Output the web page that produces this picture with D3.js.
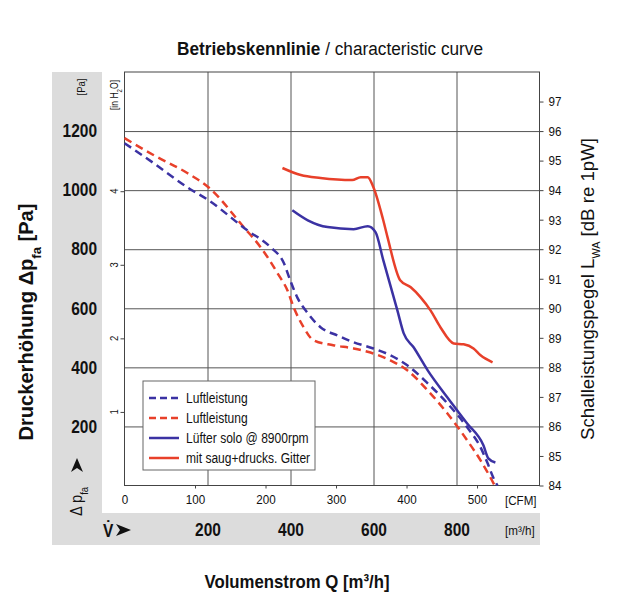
<!DOCTYPE html>
<html lang="de">
<head>
<meta charset="UTF-8">
<title>Betriebskennlinie</title>
<style>
  body { margin: 0; background: #fff; }
  svg text { font-family: 'Liberation Sans', Arial, sans-serif; fill: #111; }
</style>
</head>
<body>
<script src="https://d3js.org/d3.v7.min.js"></script>
<script>
// ---- data (CFM on x, Pa for the air curves, dB for the sound curves) ----
const cfmBlueDash = [0, 41, 89, 119, 174, 207, 226, 235, 245, 260, 278, 302, 325, 353, 377, 401, 430, 458, 486, 505, 515, 523, 529];
const paBlueDash  = [1159, 1092, 1010, 966, 864, 807, 753, 695, 637, 583, 536, 508, 485, 464, 441, 407, 346, 278, 197, 129, 75, 27, 0];

const cfmRedDash = [0, 41, 89, 119, 169, 193, 217, 231, 240, 254, 268, 296, 325, 353, 377, 401, 430, 458, 486, 505, 519, 525];
const paRedDash  = [1176, 1119, 1058, 1010, 875, 807, 719, 661, 603, 536, 492, 475, 464, 447, 424, 390, 322, 244, 153, 85, 27, 0];

const cfmBlueSolid = [238, 260, 288, 325, 345, 356, 367, 387, 396, 410, 430, 458, 486, 509, 516, 526];
const dbBlueSolid  = [93.32, 92.98, 92.75, 92.68, 92.78, 92.58, 91.63, 89.93, 89.15, 88.68, 87.90, 86.98, 86.10, 85.36, 84.92, 84.78];

const cfmRedSolid = [224, 250, 278, 323, 335, 345, 353, 367, 373, 391, 406, 420, 434, 448, 467, 481, 495, 505, 522];
const dbRedSolid  = [94.75, 94.51, 94.41, 94.34, 94.44, 94.44, 94.10, 92.98, 92.41, 90.95, 90.71, 90.37, 89.93, 89.36, 88.81, 88.78, 88.64, 88.41, 88.17];

const legendLabels = ["Luftleistung", "Luftleistung", "Lüfter solo @ 8900rpm", "mit saug+drucks. Gitter"];

const paTicks  = [200, 400, 600, 800, 1000, 1200];
const inTicks  = [1, 2, 3, 4];
const dbTicks  = [84, 85, 86, 87, 88, 89, 90, 91, 92, 93, 94, 95, 96, 97];
const cfmTicks = [0, 100, 200, 300, 400, 500];
const m3hTicks = [200, 400, 600, 800];

// ---- layout ----
const svgWidth = 629, svgHeight = 600;
const plotLeft = 124.5, plotRight = 539.5, plotTop = 72, plotBottom = 485.5;
const blue = "#3b32a3", red = "#e8402a", grey = "#dcdcdc";

const svg = d3.select("body").append("svg")
  .attr("width", svgWidth)
  .attr("height", svgHeight);

// scales
const xCfm = d3.scaleLinear().domain([0, 1000 / 1.699]).range([plotLeft, plotRight]);
const xM3h = d3.scaleLinear().domain([0, 1000]).range([plotLeft, plotRight]);
const yPa  = d3.scaleLinear().domain([0, 1400]).range([plotBottom, plotTop]);
const yIn  = d3.scaleLinear().domain([0, 1400 / 249.09]).range([plotBottom, plotTop]);
const yDb  = d3.scaleLinear().domain([84, 98]).range([plotBottom, plotTop]);

// grey L-shaped band
svg.append("rect").attr("x", 52).attr("y", plotTop).attr("width", 50).attr("height", 545 - plotTop).attr("fill", grey);
svg.append("rect").attr("x", 52).attr("y", 513).attr("width", 540 - 52).attr("height", 32).attr("fill", grey);

// grid
const grid = svg.append("g");
grid.append("g")
  .attr("transform", `translate(${plotLeft},0)`)
  .call(d3.axisLeft(yPa).tickValues(paTicks).tickSize(-(plotRight - plotLeft)).tickFormat(""))
  .call(g => g.select(".domain").remove())
  .selectAll("line").attr("stroke", "#555");
grid.append("g")
  .attr("transform", `translate(0,${plotBottom})`)
  .call(d3.axisBottom(xM3h).tickValues(m3hTicks).tickSize(-(plotBottom - plotTop)).tickFormat(""))
  .call(g => g.select(".domain").remove())
  .selectAll("line").attr("stroke", "#555");

// frame
svg.append("rect")
  .attr("x", plotLeft).attr("y", plotTop)
  .attr("width", plotRight - plotLeft).attr("height", plotBottom - plotTop)
  .attr("fill", "none").attr("stroke", "#444").attr("stroke-width", 1);

// curves
const paLine = d3.line().x(d => xCfm(d[0])).y(d => yPa(d[1])).curve(d3.curveMonotoneX);
const dbLine = d3.line().x(d => xCfm(d[0])).y(d => yDb(d[1])).curve(d3.curveMonotoneX);

svg.append("path").datum(d3.zip(cfmRedDash, paRedDash))
  .attr("d", paLine).attr("fill", "none").attr("stroke", red)
  .attr("stroke-width", 2.5).attr("stroke-dasharray", "8,5");
svg.append("path").datum(d3.zip(cfmBlueDash, paBlueDash))
  .attr("d", paLine).attr("fill", "none").attr("stroke", blue)
  .attr("stroke-width", 2.5).attr("stroke-dasharray", "8,5");
svg.append("path").datum(d3.zip(cfmRedSolid, dbRedSolid))
  .attr("d", dbLine).attr("fill", "none").attr("stroke", red).attr("stroke-width", 2.5);
svg.append("path").datum(d3.zip(cfmBlueSolid, dbBlueSolid))
  .attr("d", dbLine).attr("fill", "none").attr("stroke", blue).attr("stroke-width", 2.5);

// legend
const legend = svg.append("g").attr("transform", "translate(143,381)");
legend.append("rect").attr("width", 172).attr("height", 89)
  .attr("fill", "#fff").attr("stroke", "#666").attr("stroke-width", 1);
const legendStyles = [
  { color: blue, dash: "7,4" },
  { color: red, dash: "7,4" },
  { color: blue, dash: null },
  { color: red, dash: null }
];
const rows = legend.selectAll(".row")
  .data(legendLabels)
  .enter()
  .append("g")
  .attr("class", "row")
  .attr("transform", (d, i) => `translate(0, ${17 + i * 20})`);
rows.append("line")
  .attr("x1", 6).attr("x2", 36).attr("y1", 0).attr("y2", 0)
  .attr("stroke", (d, i) => legendStyles[i].color)
  .attr("stroke-width", 2.5)
  .attr("stroke-dasharray", (d, i) => legendStyles[i].dash);
rows.append("text")
  .attr("x", 43).attr("y", 5)
  .style("font-size", "14px")
  .text(d => d);

// Pa labels in grey band
svg.append("g")
  .attr("transform", "translate(97,0)")
  .call(d3.axisLeft(yPa).tickValues(paTicks).tickSize(0).tickPadding(0).tickFormat(d3.format("d")))
  .call(g => g.select(".domain").remove())
  .selectAll("text")
  .style("font-size", "18px").style("font-weight", "bold").attr("fill", "#111");

// inch H2O ticks
const inAxis = svg.append("g")
  .attr("transform", `translate(${plotLeft},0)`)
  .call(d3.axisLeft(yIn).tickValues(inTicks).tickSize(4).tickFormat(""))
  .call(g => g.select(".domain").remove());
inAxis.selectAll("line").attr("stroke", "#444");
svg.selectAll(".inlab")
  .data(inTicks)
  .enter()
  .append("text")
  .attr("class", "inlab")
  .attr("transform", d => `translate(118,${yIn(d)}) rotate(-90)`)
  .attr("text-anchor", "middle")
  .style("font-size", "11px")
  .text(d => d);

// dB axis on the right
const dbAxis = svg.append("g")
  .attr("transform", `translate(${plotRight},0)`)
  .call(d3.axisRight(yDb).tickValues(dbTicks).tickSize(4).tickPadding(5))
  .call(g => g.select(".domain").remove());
dbAxis.selectAll("line").attr("stroke", "#444");
dbAxis.selectAll("text").style("font-size", "13.5px").attr("fill", "#111");

// CFM axis
const cfmAxis = svg.append("g")
  .attr("transform", `translate(0,${plotBottom})`)
  .call(d3.axisBottom(xCfm).tickValues(cfmTicks).tickSize(3).tickPadding(6))
  .call(g => g.select(".domain").remove());
cfmAxis.selectAll("line").attr("stroke", "#444");
cfmAxis.selectAll(".tick").filter(d => d === 0).select("line").remove();
cfmAxis.selectAll("text").style("font-size", "13.5px").attr("fill", "#111");

// m3/h labels in bottom band
svg.append("g")
  .attr("transform", "translate(0,523)")
  .call(d3.axisBottom(xM3h).tickValues(m3hTicks).tickSize(0).tickPadding(0))
  .call(g => g.select(".domain").remove())
  .selectAll("text")
  .style("font-size", "18px").style("font-weight", "bold").attr("fill", "#111");

// unit labels
svg.append("text").attr("x", 505).attr("y", 505).style("font-size", "13.5px").text("[CFM]");
svg.append("text").attr("x", 505).attr("y", 535).style("font-size", "13.5px").text("[m³/h]");

svg.append("text")
  .attr("transform", "translate(85,87) rotate(-90)")
  .attr("text-anchor", "middle").style("font-size", "11px").text("[Pa]");

const inUnit = svg.append("text")
  .attr("transform", "translate(118,95) rotate(-90)")
  .attr("text-anchor", "middle").style("font-size", "10px");
inUnit.append("tspan").text("[in H");
inUnit.append("tspan").attr("baseline-shift", "sub").style("font-size", "7px").text("2");
inUnit.append("tspan").text("O]");

// delta p arrow label (vertical)
const dp = svg.append("text")
  .attr("transform", "translate(82,516) rotate(-90)")
  .style("font-size", "17px");
dp.append("tspan").text("Δ p");
dp.append("tspan").attr("baseline-shift", "sub").style("font-size", "11px").text("fa");
svg.append("path")
  .attr("d", "M77,458 L83,472 L77,468 L71,472 Z")
  .attr("fill", "#111");

// V dot arrow label
svg.append("text").attr("x", 103).attr("y", 537)
  .style("font-size", "18px").style("font-weight", "bold").text("V̇");
svg.append("path")
  .attr("d", "M131,530 L116,524 L120,530 L116,536 Z")
  .attr("fill", "#111");

// titles
const title = svg.append("text")
  .attr("class", "fixed")
  .attr("x", 330).attr("y", 55)
  .attr("text-anchor", "middle")
  .attr("textLength", 306).attr("lengthAdjust", "spacingAndGlyphs")
  .style("font-size", "18px");
title.append("tspan").style("font-weight", "bold").text("Betriebskennlinie");
title.append("tspan").text(" / characteristic curve");

const yTitle = svg.append("text")
  .attr("class", "fixed")
  .attr("transform", "translate(33,322) rotate(-90)")
  .attr("text-anchor", "middle")
  .attr("textLength", 237).attr("lengthAdjust", "spacingAndGlyphs")
  .style("font-size", "20px").style("font-weight", "bold");
yTitle.append("tspan").text("Druckerhöhung  Δp");
yTitle.append("tspan").attr("baseline-shift", "sub").style("font-size", "13px").text("fa");
yTitle.append("tspan").text("  [Pa]");

const rTitle = svg.append("text")
  .attr("class", "fixed")
  .attr("transform", "translate(594,289) rotate(-90)")
  .attr("text-anchor", "middle")
  .attr("textLength", 302).attr("lengthAdjust", "spacingAndGlyphs")
  .style("font-size", "19px");
rTitle.append("tspan").text("Schalleistungspegel  L");
rTitle.append("tspan").attr("baseline-shift", "sub").style("font-size", "11px").text("WA");
rTitle.append("tspan").text(" [dB re 1pW]");

svg.append("text")
  .attr("class", "fixed")
  .attr("x", 297).attr("y", 588)
  .attr("text-anchor", "middle")
  .attr("textLength", 185).attr("lengthAdjust", "spacingAndGlyphs")
  .style("font-size", "19px").style("font-weight", "bold")
  .text("Volumenstrom Q [m³/h]");

// narrow the remaining labels to mimic a condensed face
svg.selectAll("text:not(.fixed)").each(function() {
  const w = this.getComputedTextLength();
  if (w > 0) {
    d3.select(this).attr("textLength", w * 0.86).attr("lengthAdjust", "spacingAndGlyphs");
  }
});
</script>
</body>
</html>
